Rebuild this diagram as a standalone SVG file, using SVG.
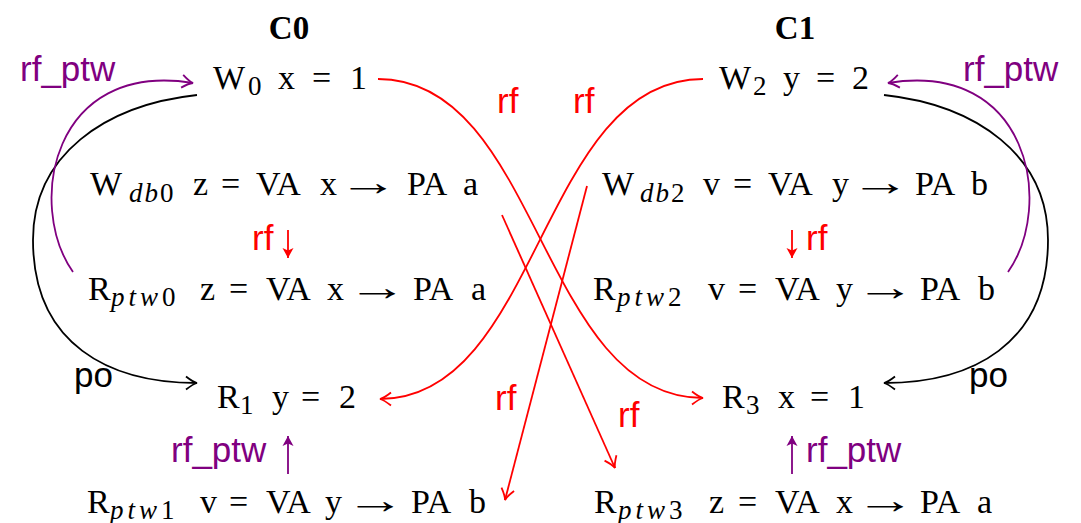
<svg xmlns="http://www.w3.org/2000/svg" width="1081" height="523" viewBox="0 0 1081 523">
<style>
  .t { font-family: "Liberation Serif", "Times New Roman", serif; font-size: 34px; fill: #000; }
  .h { font-family: "Liberation Serif", "Times New Roman", serif; font-size: 33px; font-weight: bold; fill: #000; }
  .sub { font-size: 27px; }
  .it { font-style: italic; }
  .ls1 { letter-spacing: 2px; }
  .ls2 { letter-spacing: 4px; }
  .ar { font-size: 38px; }
  .lbl { font-family: "Liberation Sans", Arial, sans-serif; font-size: 35px; }
  .red { fill: #ff0000; }
  .pur { fill: #800080; }
  .blk { fill: #000; }
  .e { fill: none; stroke-width: 1.8; }
  .er { stroke: #ff0000; }
  .ep { stroke: #800080; }
  .eb { stroke: #000; }
</style>
<defs>
  <marker id="oa-r" viewBox="-13 -8 15 16" markerWidth="15" markerHeight="16" refX="0" refY="0" orient="auto" markerUnits="userSpaceOnUse">
    <path d="M-11,-6.5 Q-4,-1 0,0 Q-4,1 -11,6.5" fill="none" stroke="#ff0000" stroke-width="1.8"/>
  </marker>
  <marker id="oa-p" viewBox="-13 -8 15 16" markerWidth="15" markerHeight="16" refX="0" refY="0" orient="auto" markerUnits="userSpaceOnUse">
    <path d="M-11,-6.5 Q-4,-1 0,0 Q-4,1 -11,6.5" fill="none" stroke="#800080" stroke-width="1.8"/>
  </marker>
  <marker id="oa-b" viewBox="-13 -8 15 16" markerWidth="15" markerHeight="16" refX="0" refY="0" orient="auto" markerUnits="userSpaceOnUse">
    <path d="M-11,-6.5 Q-4,-1 0,0 Q-4,1 -11,6.5" fill="none" stroke="#000" stroke-width="1.8"/>
  </marker>
  <marker id="fa-r" viewBox="-11 -7 12 14" markerWidth="12" markerHeight="14" refX="0" refY="0" orient="auto" markerUnits="userSpaceOnUse">
    <path d="M-10,-5.5 L0,0 L-10,5.5 L-7.5,0 Z" fill="#ff0000"/>
  </marker>
  <marker id="fa-p" viewBox="-11 -7 12 14" markerWidth="12" markerHeight="14" refX="0" refY="0" orient="auto" markerUnits="userSpaceOnUse">
    <path d="M-10,-5.5 L0,0 L-10,5.5 L-7.5,0 Z" fill="#800080"/>
  </marker>
</defs>

<g id="header-c0"><text class="h" x="289" y="39" text-anchor="middle">C0</text></g>
<g id="header-c1"><text class="h" x="795" y="39" text-anchor="middle">C1</text></g>

<g id="node-w0">
  <text class="t" y="89"><tspan x="213">W</tspan><tspan class="sub" x="248" y="95">0</tspan><tspan x="278" y="89">x</tspan><tspan x="312">=</tspan><tspan x="350">1</tspan></text>
</g>
<g id="node-wdb0">
  <text class="t" y="195"><tspan x="90">W</tspan><tspan class="sub ls1" x="129" y="202"><tspan class="it">db</tspan>0</tspan><tspan x="193" y="195">z</tspan><tspan x="221">=</tspan><tspan x="256">VA</tspan><tspan x="320">x</tspan><tspan class="ar" x="338" textLength="60" lengthAdjust="spacingAndGlyphs">→</tspan><tspan x="407">PA</tspan><tspan x="463">a</tspan></text>
</g>
<g id="node-rptw0">
  <text class="t" y="300"><tspan x="88">R</tspan><tspan class="sub ls2" x="111" y="306"><tspan class="it">ptw</tspan>0</tspan><tspan x="200" y="300">z</tspan><tspan x="229">=</tspan><tspan x="266">VA</tspan><tspan x="327">x</tspan><tspan class="ar" x="347" textLength="60" lengthAdjust="spacingAndGlyphs">→</tspan><tspan x="413">PA</tspan><tspan x="471">a</tspan></text>
</g>
<g id="node-r1">
  <text class="t" y="408"><tspan x="217">R</tspan><tspan class="sub" x="240" y="414">1</tspan><tspan x="272" y="408">y</tspan><tspan x="301">=</tspan><tspan x="339">2</tspan></text>
</g>
<g id="node-rptw1">
  <text class="t" y="513"><tspan x="87">R</tspan><tspan class="sub ls2" x="110" y="519"><tspan class="it">ptw</tspan>1</tspan><tspan x="200" y="513">v</tspan><tspan x="229">=</tspan><tspan x="266">VA</tspan><tspan x="325">y</tspan><tspan class="ar" x="345" textLength="60" lengthAdjust="spacingAndGlyphs">→</tspan><tspan x="411">PA</tspan><tspan x="469">b</tspan></text>
</g>

<g id="node-w2">
  <text class="t" y="89"><tspan x="719">W</tspan><tspan class="sub" x="753" y="95">2</tspan><tspan x="783" y="89">y</tspan><tspan x="816">=</tspan><tspan x="852">2</tspan></text>
</g>
<g id="node-wdb2">
  <text class="t" y="195"><tspan x="602">W</tspan><tspan class="sub ls1" x="640" y="202"><tspan class="it">db</tspan>2</tspan><tspan x="703" y="195">v</tspan><tspan x="733">=</tspan><tspan x="768">VA</tspan><tspan x="832">y</tspan><tspan class="ar" x="850" textLength="60" lengthAdjust="spacingAndGlyphs">→</tspan><tspan x="915">PA</tspan><tspan x="971">b</tspan></text>
</g>
<g id="node-rptw2">
  <text class="t" y="300"><tspan x="593">R</tspan><tspan class="sub ls2" x="617" y="306"><tspan class="it">ptw</tspan>2</tspan><tspan x="708" y="300">v</tspan><tspan x="738">=</tspan><tspan x="775">VA</tspan><tspan x="836">y</tspan><tspan class="ar" x="855" textLength="60" lengthAdjust="spacingAndGlyphs">→</tspan><tspan x="920">PA</tspan><tspan x="978">b</tspan></text>
</g>
<g id="node-r3">
  <text class="t" y="408"><tspan x="722">R</tspan><tspan class="sub" x="746" y="414">3</tspan><tspan x="778" y="408">x</tspan><tspan x="810">=</tspan><tspan x="848">1</tspan></text>
</g>
<g id="node-rptw3">
  <text class="t" y="513"><tspan x="594">R</tspan><tspan class="sub ls2" x="618" y="519"><tspan class="it">ptw</tspan>3</tspan><tspan x="709" y="513">z</tspan><tspan x="738">=</tspan><tspan x="775">VA</tspan><tspan x="836">x</tspan><tspan class="ar" x="855" textLength="60" lengthAdjust="spacingAndGlyphs">→</tspan><tspan x="920">PA</tspan><tspan x="977">a</tspan></text>
</g>

<g id="connectors">
  <path class="e eb" d="M197,95 C105,105 33,155 33,240 C33,345 110,383 197,383" marker-end="url(#oa-b)"/>
  <path class="e eb" d="M884,95 C976,105 1048,155 1048,240 C1048,345 971,383 884,383" marker-end="url(#oa-b)"/>
  <text class="lbl blk" x="74" y="387">po</text>
  <text class="lbl blk" x="969" y="387">po</text>

  <path class="e ep" d="M73,272 C26,205 52,60 193,83" marker-end="url(#oa-p)"/>
  <path class="e ep" d="M1008,272 C1055,205 1029,60 888,83" marker-end="url(#oa-p)"/>
  <text class="lbl pur" x="20" y="81">rf_ptw</text>
  <text class="lbl pur" x="963" y="81">rf_ptw</text>

  <path class="e er" d="M378,79 C540,79 540,398 703,398" marker-end="url(#oa-r)"/>
  <path class="e er" d="M703,79 C540,79 540,399 380,399" marker-end="url(#oa-r)"/>
  <text class="lbl red" x="497" y="113">rf</text>
  <text class="lbl red" x="573" y="113">rf</text>

  <path class="e er" d="M502,215 L615,468" marker-end="url(#oa-r)"/>
  <path class="e er" d="M587,186 L505,500" marker-end="url(#oa-r)"/>
  <text class="lbl red" x="495" y="410">rf</text>
  <text class="lbl red" x="618" y="427">rf</text>

  <path class="e er" d="M288,230 L288,258" marker-end="url(#fa-r)"/>
  <text class="lbl red" x="252" y="250">rf</text>
  <path class="e er" d="M792,230 L792,258" marker-end="url(#fa-r)"/>
  <text class="lbl red" x="806" y="250">rf</text>
  <path class="e ep" d="M288,474 L288,436" marker-end="url(#fa-p)"/>
  <text class="lbl pur" x="171" y="462">rf_ptw</text>
  <path class="e ep" d="M792,474 L792,436" marker-end="url(#fa-p)"/>
  <text class="lbl pur" x="806" y="462">rf_ptw</text>
</g>
</svg>
